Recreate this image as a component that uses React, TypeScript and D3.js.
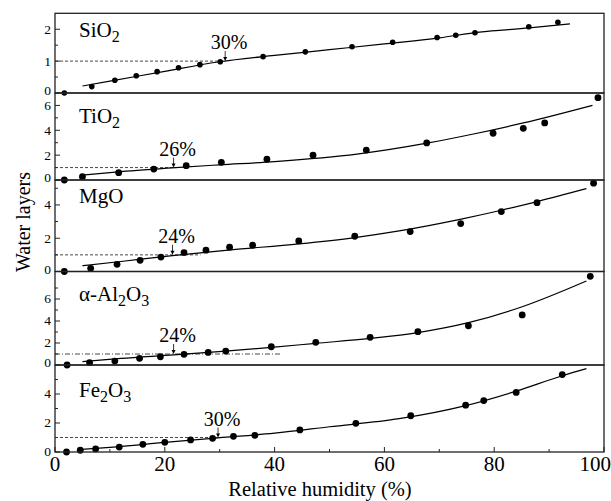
import React, { useEffect, useRef } from 'react';
import * as d3 from 'd3';

// panel names (digits are drawn as subscripts)
const oxides = ['SiO2', 'TiO2', 'MgO', 'α-Al2O3', 'Fe2O3'];
const yMax = [2.5, 7, 5.5, 8.5, 6];
const yTicks = [[0, 1, 2], [0, 2, 4, 6], [0, 2, 4], [0, 2, 4, 6], [0, 2, 4]];
const yMinor = [[0.5, 1.5], [1, 3, 5], [1, 3, 5], [1, 3, 5, 7], [1, 3, 5]];
const xTicks = [0, 20, 40, 60, 80, 100];
const xMinor = [10, 30, 50, 70, 90];

// measured points
const sio2X = [1.7, 6.7, 10.9, 14.8, 18.6, 22.5, 26.4, 30.1, 37.9, 45.6, 54.1, 61.5, 69.6, 73, 76.5, 86.3, 91.6];
const sio2Y = [0, 0.2, 0.4, 0.54, 0.67, 0.79, 0.89, 0.98, 1.14, 1.29, 1.45, 1.59, 1.74, 1.81, 1.89, 2.08, 2.22];
const tio2X = [1.7, 5, 11.6, 18, 23.9, 30.3, 38.6, 47, 56.7, 67.7, 79.8, 85.3, 89.2, 98.9];
const tio2Y = [0, 0.27, 0.59, 0.88, 1.15, 1.42, 1.67, 1.99, 2.41, 2.98, 3.76, 4.16, 4.59, 6.62];
const mgoX = [1.7, 6.5, 11.3, 15.5, 19.3, 23.5, 27.5, 31.8, 36, 44.4, 54.6, 64.7, 73.9, 81.3, 87.8, 98.1];
const mgoY = [0, 0.19, 0.43, 0.67, 0.87, 1.13, 1.28, 1.46, 1.58, 1.84, 2.12, 2.4, 2.88, 3.6, 4.14, 5.31];
const al2o3X = [2.2, 6.3, 10.9, 15.4, 19.2, 23.5, 27.9, 31.1, 39.4, 47.5, 57.4, 66.1, 75.3, 85.1, 97.5];
const al2o3Y = [0, 0.21, 0.36, 0.61, 0.75, 0.97, 1.14, 1.27, 1.66, 2.06, 2.52, 3.03, 3.57, 4.55, 8.06];
const fe2o3X = [2.1, 4.6, 7.4, 11.7, 16, 20, 24.7, 28.7, 32.5, 36.4, 44.6, 54.8, 64.8, 74.8, 78.1, 84, 92.4];
const fe2o3Y = [0, 0.12, 0.21, 0.34, 0.53, 0.67, 0.83, 0.94, 1.08, 1.15, 1.52, 1.98, 2.5, 3.23, 3.55, 4.11, 5.34];

// fitted curves
const sio2FitX = [5, 10, 20, 30, 40, 50, 60, 70, 77.3, 86.4, 93.8];
const sio2FitY = [0.22, 0.37, 0.68, 0.98, 1.18, 1.36, 1.54, 1.73, 1.91, 2.04, 2.17];
const tio2FitX = [5, 12, 22, 30, 40, 55, 68, 76, 85.3, 97.9];
const tio2FitY = [0.4, 0.68, 1.0, 1.22, 1.48, 2.08, 2.98, 3.68, 4.59, 6.01];
const mgoFitX = [5, 12, 21.4, 32, 44.4, 54.6, 62.7, 74, 81.3, 88, 96.8];
const mgoFitY = [0.35, 0.6, 0.95, 1.3, 1.66, 2.04, 2.44, 3.15, 3.68, 4.22, 4.98];
const al2o3FitX = [5, 12, 21.6, 31.1, 39.4, 47.5, 57.4, 66.1, 75.3, 85.1, 96.8];
const al2o3FitY = [0.3, 0.6, 0.92, 1.27, 1.6, 1.97, 2.42, 2.95, 3.85, 5.3, 7.64];
const fe2o3FitX = [4.2, 10, 20, 29.7, 40, 50, 62.7, 74.8, 84, 92.4, 96.8];
const fe2o3FitY = [0.16, 0.32, 0.66, 0.98, 1.3, 1.74, 2.3, 3.2, 4.2, 5.26, 5.75];

// one-layer humidity markers
const onsetLabels = ['30%', '26%', '24%', '24%', '30%'];
const onsetX = [31, 21.6, 21.4, 21.6, 29.7];
const dashEndX = [31, 22, 26.5, 41, 29.7];

const W = 611;
const H = 501;
const left = 55;
const right = 604;
const bounds = [13.3, 93, 180, 271.5, 365, 452];
const labelDy = [24, 30, 23, 29, 32];
const dotR = [2.8, 3.4, 3.4, 3.4, 3.4];
const dashes = ['3,2', '3,2', '3,2', '5,2,1,2', '3,2'];
const FONT = 'Times New Roman, Times, Liberation Serif, Tinos, Noto Serif, DejaVu Serif, FreeSerif, serif';

const App = () => {
  const ref = useRef<SVGSVGElement>(null);

  useEffect(() => {
    const svg = d3.select(ref.current);
    svg.selectAll('*').remove();

    const x = d3.scaleLinear().domain([0, 100]).range([left, right]);
    const pts = [
      [sio2X, sio2Y], [tio2X, tio2Y], [mgoX, mgoY], [al2o3X, al2o3Y], [fe2o3X, fe2o3Y],
    ];
    const fits = [
      [sio2FitX, sio2FitY], [tio2FitX, tio2FitY], [mgoFitX, mgoFitY], [al2o3FitX, al2o3FitY], [fe2o3FitX, fe2o3FitY],
    ];

    oxides.forEach((name, i) => {
      const top = bounds[i];
      const bottom = bounds[i + 1];
      const y = d3.scaleLinear().domain([0, yMax[i]]).range([bottom, top]);
      const g = svg.append('g');

      // y ticks, inward
      g.selectAll('line.major')
        .data(yTicks[i])
        .enter()
        .append('line')
        .attr('x1', left)
        .attr('x2', left + 5)
        .attr('y1', d => y(d))
        .attr('y2', d => y(d))
        .attr('stroke', '#222');
      g.selectAll('line.minor')
        .data(yMinor[i])
        .enter()
        .append('line')
        .attr('x1', left)
        .attr('x2', left + 3)
        .attr('y1', d => y(d))
        .attr('y2', d => y(d))
        .attr('stroke', '#222');
      g.selectAll('text.tick')
        .data(yTicks[i])
        .enter()
        .append('text')
        .attr('x', left - 4)
        .attr('y', d => y(d) + (d === 0 && i < oxides.length - 1 ? -2 : 0))
        .attr('dy', '0.33em')
        .attr('text-anchor', 'end')
        .style('font-family', FONT)
        .style('font-size', '13.5px')
        .text(d => d);

      // dashed reference at one layer
      g.append('line')
        .attr('x1', left)
        .attr('x2', x(dashEndX[i]))
        .attr('y1', y(1))
        .attr('y2', y(1))
        .attr('stroke', '#333')
        .attr('stroke-width', 0.9)
        .attr('stroke-dasharray', dashes[i]);

      // fitted curve
      const [fx, fy] = fits[i];
      const line = d3
        .line<number>()
        .x(d => x(fx[d]))
        .y(d => y(fy[d]))
        .curve(d3.curveMonotoneX);
      g.append('path')
        .attr('d', line(d3.range(fx.length)))
        .attr('fill', 'none')
        .attr('stroke', '#000')
        .attr('stroke-width', 1.2);

      // data points
      const [px, py] = pts[i];
      g.selectAll('circle')
        .data(d3.range(px.length))
        .enter()
        .append('circle')
        .attr('cx', d => x(px[d]))
        .attr('cy', d => y(py[d]))
        .attr('r', dotR[i])
        .attr('fill', '#000');

      // arrow + percentage
      const ax = x(onsetX[i]);
      const tip = y(1);
      g.append('line')
        .attr('x1', ax)
        .attr('x2', ax)
        .attr('y1', tip - 10)
        .attr('y2', tip - 3)
        .attr('stroke', '#000')
        .attr('stroke-width', 0.8);
      g.append('path')
        .attr('d', `M${ax - 2},${tip - 4}L${ax + 2},${tip - 4}L${ax},${tip}Z`)
        .attr('fill', '#000');
      g.append('text')
        .attr('x', ax + 4)
        .attr('y', tip - 12)
        .attr('text-anchor', 'middle')
        .style('font-family', FONT)
        .style('font-size', '20px')
        .text(onsetLabels[i]);

      // panel name with subscripts
      const label = g
        .append('text')
        .attr('x', 79)
        .attr('y', top + labelDy[i])
        .style('font-family', FONT)
        .style('font-size', '21px');
      let sub = false;
      name.split('').forEach(ch => {
        const isDigit = /\d/.test(ch);
        const t = label.append('tspan').text(ch);
        if (isDigit && !sub) {
          t.attr('dy', 5).style('font-size', '16px');
          sub = true;
        } else if (isDigit) {
          t.style('font-size', '16px');
        } else if (sub) {
          t.attr('dy', -5);
          sub = false;
        }
      });

      // panel frame
      g.append('rect')
        .attr('x', left)
        .attr('y', top)
        .attr('width', right - left)
        .attr('height', bottom - top)
        .attr('fill', 'none')
        .attr('stroke', '#222')
        .attr('stroke-width', 1.3);
    });

    // x axis, ticks inward
    const base = bounds[bounds.length - 1];
    svg.selectAll('line.xmajor')
      .data(xTicks)
      .enter()
      .append('line')
      .attr('x1', d => x(d))
      .attr('x2', d => x(d))
      .attr('y1', base)
      .attr('y2', base - 5)
      .attr('stroke', '#222');
    svg.selectAll('line.xminor')
      .data(xMinor)
      .enter()
      .append('line')
      .attr('x1', d => x(d))
      .attr('x2', d => x(d))
      .attr('y1', base)
      .attr('y2', base - 3)
      .attr('stroke', '#222');
    svg.selectAll('text.xtick')
      .data(xTicks)
      .enter()
      .append('text')
      .attr('x', d => (d === 100 ? W : x(d)))
      .attr('y', 471)
      .attr('text-anchor', d => (d === 100 ? 'end' : 'middle'))
      .style('font-family', FONT)
      .style('font-size', '21px')
      .text(d => d);

    svg.append('text')
      .attr('x', 320)
      .attr('y', 496)
      .attr('text-anchor', 'middle')
      .style('font-family', FONT)
      .style('font-size', '20.5px')
      .text('Relative humidity (%)');
    svg.append('text')
      .attr('transform', 'translate(29.5,222) rotate(-90)')
      .attr('text-anchor', 'middle')
      .style('font-family', FONT)
      .style('font-size', '20px')
      .text('Water layers');
  }, []);

  return (
    <svg
      ref={ref}
      width={W}
      height={H}
      style={{ position: 'absolute', left: 0, top: 0, background: '#fff', fontFamily: FONT }}
    />
  );
};

export default App;
